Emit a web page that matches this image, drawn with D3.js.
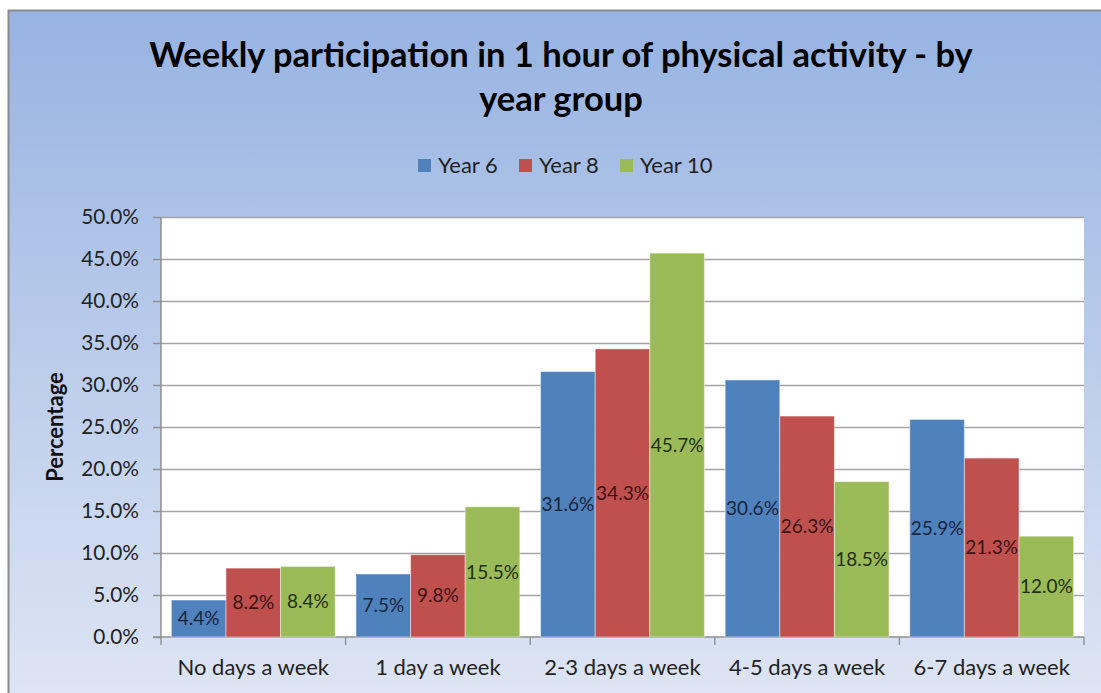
<!DOCTYPE html>
<html>
<head>
<meta charset="utf-8">
<script src="https://cdn.jsdelivr.net/npm/d3@7"></script>
<style>
  body { margin: 0; background: #fff; }
  #chart { width: 1101px; height: 693px; }
  text { font-family: Lato, "Open Sans", sans-serif; }
</style>
</head>
<body>
<div id="chart"></div>
<script>
// chart data
const categories = ['No days a week', '1 day a week', '2-3 days a week', '4-5 days a week', '6-7 days a week'];
const seriesNames = ['Year 6', 'Year 8', 'Year 10'];
const year6 = [4.4, 7.5, 31.6, 30.6, 25.9];
const year8 = [8.2, 9.8, 34.3, 26.3, 21.3];
const year10 = [8.4, 15.5, 45.7, 18.5, 12.0];
const yTicks = [0, 5, 10, 15, 20, 25, 30, 35, 40, 45, 50];
const colors = ['#4f81bd', '#c0504d', '#9bbb59'];
const labelColors = ['#17253a', '#3a1211', '#242f0c'];

class Chart {

  constructor(opts) {
    this.element = opts.element;
    this.categories = opts.categories;
    this.series = opts.series;
    this.draw();
  }

  draw() {
    this.width = 1101;
    this.height = 693;
    // plot area box
    this.margin = { top: 217, right: 17, bottom: 55, left: 161 };

    const svg = d3.select(this.element).append('svg')
      .attr('width', this.width)
      .attr('height', this.height);
    this.svg = svg;

    // background gradient of the chart area
    const grad = svg.append('defs').append('linearGradient')
      .attr('id', 'bg').attr('x1', 0).attr('y1', 0).attr('x2', 0).attr('y2', 1);
    grad.append('stop').attr('offset', '0%').attr('stop-color', '#97b3e2');
    grad.append('stop').attr('offset', '100%').attr('stop-color', '#dfe6f4');

    svg.append('rect')
      .attr('x', 8.5).attr('y', 10.5)
      .attr('width', 1110).attr('height', 700)
      .attr('fill', 'url(#bg)')
      .attr('stroke', '#8c8c8c')
      .attr('stroke-width', 2);

    this.createScales();
    this.addPlotArea();
    this.addAxes();
    this.addBars();
    this.addTitle();
    this.addLegend();
  }

  createScales() {
    const m = this.margin;
    this.xScale = d3.scaleBand()
      .domain(this.categories)
      .range([m.left, this.width - m.right]);

    this.xInner = d3.scaleBand()
      .domain(this.series.map(s => s.name))
      .range([0, this.xScale.bandwidth()])
      .paddingInner(0)
      .paddingOuter(0.19);

    this.yScale = d3.scaleLinear()
      .domain([0, 50])
      .range([this.height - m.bottom - 1, m.top]);
  }

  addPlotArea() {
    const m = this.margin;
    this.svg.append('rect')
      .attr('x', m.left)
      .attr('y', m.top)
      .attr('width', this.width - m.right - m.left)
      .attr('height', this.yScale(0) - m.top)
      .attr('fill', '#fff');

    // horizontal gridlines
    this.svg.append('g')
      .selectAll('line')
      .data(yTicks.slice(1))
      .enter().append('line')
        .attr('x1', m.left)
        .attr('x2', this.width - m.right)
        .attr('y1', d => Math.round(this.yScale(d)) + 0.5)
        .attr('y2', d => Math.round(this.yScale(d)) + 0.5)
        .attr('stroke', '#a3a3a3')
        .attr('stroke-width', 1.4);
  }

  addAxes() {
    const m = this.margin;
    const y0 = this.yScale(0);

    const yAxis = d3.axisLeft(this.yScale)
      .tickValues(yTicks)
      .tickSize(8)
      .tickPadding(14)
      .tickFormat(d => d.toFixed(1) + '%');

    const gy = this.svg.append('g')
      .attr('transform', `translate(${m.left},0)`)
      .call(yAxis);
    gy.select('.domain').attr('stroke', '#8f8f8f').attr('stroke-width', 1.5)
      .attr('d', `M-8,${y0}H0V${m.top}`);
    gy.selectAll('.tick line').attr('stroke', '#8f8f8f').attr('stroke-width', 1.4);
    gy.selectAll('.tick text')
      .style('font-size', '20.8px')
      .attr('fill', '#222');

    // category axis with ticks between groups
    const bounds = this.categories.map(c => this.xScale(c)).concat([this.width - m.right]);
    const gx = this.svg.append('g');
    gx.append('line')
      .attr('x1', m.left).attr('x2', this.width - m.right)
      .attr('y1', y0).attr('y2', y0)
      .attr('stroke', '#8f8f8f').attr('stroke-width', 1.5);
    gx.selectAll('.xtick')
      .data(bounds)
      .enter().append('line')
        .attr('class', 'xtick')
        .attr('x1', d => d).attr('x2', d => d)
        .attr('y1', y0).attr('y2', y0 + 8)
        .attr('stroke', '#8f8f8f').attr('stroke-width', 1.4);
    gx.selectAll('.xlabel')
      .data(this.categories)
      .enter().append('text')
        .attr('class', 'xlabel')
        .attr('x', d => this.xScale(d) + this.xScale.bandwidth() / 2)
        .attr('y', y0 + 38)
        .attr('text-anchor', 'middle')
        .style('font-size', '22px')
        .attr('fill', '#222')
        .text(d => d);

    // y-axis title
    this.svg.append('text')
      .attr('transform', `translate(63,${(m.top + y0) / 2}) rotate(-90)`)
      .attr('text-anchor', 'middle')
      .style('font-size', '22px')
      .style('font-weight', 'bold')
      .attr('fill', '#111')
      .text('Percentage');
  }

  addBars() {
    const groups = this.svg.append('g')
      .selectAll('g')
      .data(this.series)
      .enter().append('g');

    groups.selectAll('rect')
      .data((s, i) => s.values.map((v, j) => ({ name: s.name, cat: this.categories[j], value: v, i })))
      .enter().append('rect')
        .attr('x', d => this.xScale(d.cat) + this.xInner(d.name))
        .attr('y', d => this.yScale(d.value))
        .attr('width', this.xInner.bandwidth())
        .attr('height', d => this.yScale(0) - this.yScale(d.value))
        .attr('fill', d => colors[d.i])
        .attr('stroke', 'rgba(255,255,255,0.45)')
        .attr('stroke-width', 1);

    // data labels at the centre of each bar
    groups.selectAll('text')
      .data((s, i) => s.values.map((v, j) => ({ name: s.name, cat: this.categories[j], value: v, i })))
      .enter().append('text')
        .attr('x', d => this.xScale(d.cat) + this.xInner(d.name) + this.xInner.bandwidth() / 2)
        .attr('y', d => (this.yScale(d.value) + this.yScale(0)) / 2)
        .attr('dy', '0.35em')
        .attr('text-anchor', 'middle')
        .style('font-size', '19px')
        .attr('fill', d => labelColors[d.i])
        .text(d => d.value.toFixed(1) + '%');
  }

  addTitle() {
    const lines = ['Weekly participation in 1 hour of physical activity - by', 'year group'];
    this.svg.append('g')
      .selectAll('text')
      .data(lines)
      .enter().append('text')
        .attr('x', 561)
        .attr('y', (d, i) => 67 + i * 44)
        .attr('text-anchor', 'middle')
        .style('font-size', '34.5px')
        .style('font-weight', 'bold')
        .attr('fill', '#000')
        .text(d => d);
  }

  addLegend() {
    const xs = [418, 519, 620];
    const leg = this.svg.append('g')
      .selectAll('g')
      .data(this.series)
      .enter().append('g')
        .attr('transform', (d, i) => `translate(${xs[i]},159)`);
    leg.append('rect')
      .attr('width', 13).attr('height', 13)
      .attr('fill', (d, i) => colors[i]);
    leg.append('text')
      .attr('x', 20).attr('y', 6.5)
      .attr('dy', '0.35em')
      .style('font-size', '22px')
      .attr('fill', '#222')
      .text(d => d.name);
  }
}

new Chart({
  element: document.getElementById('chart'),
  categories: categories,
  series: [
    { name: seriesNames[0], values: year6 },
    { name: seriesNames[1], values: year8 },
    { name: seriesNames[2], values: year10 }
  ]
});
</script>
</body>
</html>
